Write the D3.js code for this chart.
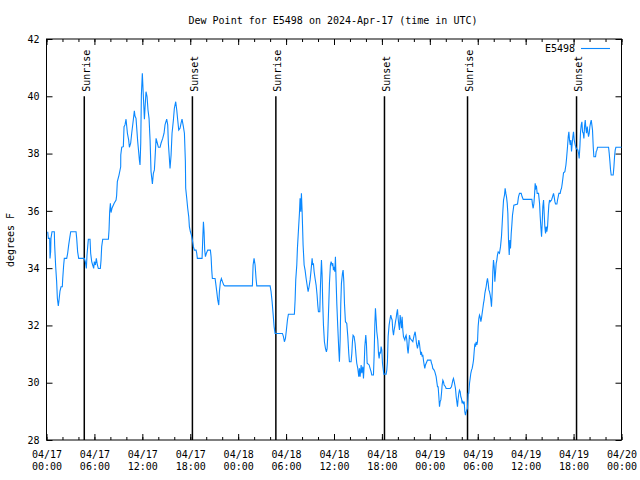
<!DOCTYPE html>
<html><head><meta charset="utf-8">
<script src="https://cdn.jsdelivr.net/npm/d3@7"></script>
<style>
body{margin:0;background:#fff}
text{font-family:"DejaVu Sans Mono","Liberation Mono",monospace;font-size:10px;fill:#000}
</style>
</head><body>
<svg id="chart" width="640" height="480"></svg>
<script>
const chartTitle = "Dew Point for E5498 on 2024-Apr-17 (time in UTC)";
const seriesName = "E5498";
const yAxisLabel = "degrees F";
const startUTC = Date.UTC(2024, 3, 17, 0, 0);
const spanHours = 72;
const yTicks = [28, 30, 32, 34, 36, 38, 40, 42];

// hours after 2024-04-17 00:00 UTC
const hoursUTC = [
0.15,0.23,0.40,0.44,0.52,0.56,0.69,0.98,1.02,1.15,1.27,1.36,1.48,1.57,1.69,1.82,1.98,2.03,2.15,2.23,2.53,2.65,2.78,2.90,3.03,3.70,3.78,3.90,4.03,4.74,4.86,4.99,5.07,5.16,5.24,5.45,5.53,5.66,5.78,5.91,5.99,6.12,6.24,6.37,6.49,6.74,6.83,6.91,7.04,7.75,7.83,7.91,8.00,8.08,8.20,8.46,8.71,
8.78,8.87,9.08,9.29,9.30,9.42,9.62,9.71,9.83,9.96,10.13,10.29,10.38,10.54,10.67,10.88,11.00,11.08,11.21,11.30,11.42,11.55,11.63,11.71,11.80,11.88,12.00,12.13,12.26,12.34,12.46,12.59,12.71,12.84,12.97,13.09,13.26,13.38,13.51,13.59,13.72,13.88,14.01,14.22,14.34,14.55,14.72,14.84,15.05,15.18,15.26,15.47,15.60,15.72,15.89,16.01,16.18,16.31,16.43,16.56,16.72,16.85,16.97,17.14,17.27,17.39,
17.43,17.56,17.68,17.81,17.89,18.02,18.14,18.27,18.39,18.52,18.73,18.81,18.89,19.48,19.56,19.65,19.73,19.81,19.90,20.02,20.19,20.52,20.61,20.69,20.77,21.11,21.19,21.32,21.44,21.57,21.65,21.78,21.90,22.03,22.19,22.32,25.78,25.87,25.99,26.12,26.24,26.33,28.00,28.12,28.25,28.37,28.50,28.62,29.54,29.67,29.79,29.92,30.04,30.17,30.29,31.04,31.13,31.21,31.34,31.42,31.55,31.67,31.75,31.84,31.92,32.01,32.13,32.26,32.38,32.51,32.63,32.76,32.88,33.01,33.13,33.26,33.34,33.42,33.51,33.63,33.76,33.88,33.97,34.05,34.22,34.30,34.43,34.51,34.59,34.68,34.80,34.93,35.05,35.14,35.22,35.35,35.43,35.55,35.64,35.76,35.85,35.93,36.01,36.10,36.18,36.26,36.35,36.47,36.60,36.68,36.77,36.85,36.93,37.06,37.14,37.23,37.31,37.43,37.60,37.73,37.85,37.93,38.14,38.23,38.31,38.39,38.52,38.64,38.77,38.85,38.98,39.10,39.19,39.27,
39.40,39.48,39.61,39.69,39.77,39.86,39.98,40.06,40.15,40.40,40.52,40.65,40.73,40.94,41.02,41.11,41.19,41.28,41.36,41.48,41.57,41.65,41.74,41.82,41.90,41.99,42.07,42.15,42.24,42.53,42.61,42.69,42.78,42.90,43.03,43.11,43.20,43.28,43.36,43.45,43.53,43.61,43.70,43.78,43.86,43.95,44.03,44.12,44.20,44.28,44.37,44.45,44.53,44.62,44.70,44.87,44.95,45.03,45.12,45.20,45.28,45.37,45.45,45.53,45.87,45.95,46.04,46.16,46.24,46.33,46.45,46.54,46.62,46.70,46.79,46.87,46.95,47.04,47.12,47.20,47.29,47.37,47.45,47.62,47.71,48.12,48.21,48.29,48.37,48.54,48.63,48.79,48.87,48.96,49.04,49.13,49.21,49.29,49.38,49.46,49.54,49.63,49.71,49.79,49.96,50.04,50.55,50.71,50.80,50.88,50.96,51.05,51.13,51.21,51.30,51.38,51.46,51.55,51.63,51.71,51.80,51.88,51.96,52.05,52.13,52.21,52.30,52.38,52.46,52.55,52.63,52.71,52.80,52.88,52.97,53.05,53.13,53.22,53.30,53.38,53.47,53.55,53.64,53.72,53.80,53.89,53.97,54.05,54.14,54.22,54.30,54.39,54.47,54.55,54.64,54.72,54.80,54.89,54.97,55.05,55.14,55.22,55.31,55.39,55.47,55.56,55.64,55.72,55.81,55.89,55.97,56.06,56.14,56.22,56.31,56.39,56.47,56.56,
56.72,56.85,56.97,57.06,57.14,57.23,57.35,57.43,57.52,57.60,57.69,57.77,57.85,57.94,58.02,58.10,58.19,58.27,58.35,58.44,58.52,58.98,59.10,59.23,59.44,59.56,59.69,60.78,60.86,60.94,61.03,61.11,61.19,61.28,61.36,61.44,61.61,61.74,61.82,61.90,61.99,62.07,62.15,62.24,62.32,62.40,62.49,62.57,62.65,62.74,62.82,62.90,62.99,63.07,63.24,63.36,63.49,63.57,63.66,63.74,63.91,63.99,64.07,64.16,64.32,64.41,64.49,64.58,64.66,64.74,64.91,65.04,65.12,65.24,65.33,65.41,65.49,65.58,65.66,65.74,65.83,65.91,65.99,66.08,66.20,66.33,66.54,66.62,66.70,66.79,66.87,66.96,67.04,67.12,67.21,67.29,67.37,67.46,67.54,67.62,67.71,67.79,67.87,67.96,68.04,68.12,68.21,68.29,68.37,68.46,68.54,68.75,68.83,68.92,69.00,70.38,70.46,70.55,70.63,70.71,70.96,71.05,71.13,71.21,71.30,72.00
];
const dewPointF = [
35.27,35.04,35.04,34.34,34.57,35.04,35.27,35.27,34.81,34.05,33.53,32.95,32.68,32.89,33.20,33.35,33.35,33.62,34.11,34.34,34.34,34.52,34.81,35.04,35.27,35.27,35.04,34.57,34.34,34.34,34.23,33.99,34.46,34.75,35.01,35.01,34.52,34.23,34.11,33.99,34.23,34.11,34.34,34.11,33.99,33.99,34.28,34.75,35.01,35.01,35.33,35.97,36.26,35.94,36.09,36.26,36.38,
36.53,37.02,37.25,37.54,37.95,38.22,38.24,38.94,39.00,39.20,38.71,38.47,38.22,38.36,38.71,39.20,39.49,39.31,39.23,38.88,38.42,38.03,37.78,37.60,38.36,40.04,40.80,39.99,39.20,39.60,40.16,39.99,39.52,39.23,38.47,37.37,36.94,37.31,37.43,37.83,38.53,38.36,38.22,38.22,38.36,38.53,38.71,39.00,39.20,39.00,38.36,37.48,37.95,38.71,39.17,39.58,39.81,39.52,39.17,38.82,38.88,39.06,39.20,38.94,38.71,37.72,
36.79,36.44,36.09,35.80,35.45,35.27,35.16,34.98,34.75,34.63,34.63,34.52,34.34,34.34,34.98,35.62,35.27,34.63,34.40,34.52,34.63,34.63,34.40,33.93,33.64,33.64,33.47,33.18,32.89,32.71,33.18,33.53,33.64,33.53,33.41,33.38,33.38,34.11,34.34,34.11,33.64,33.38,33.38,33.18,32.83,32.42,31.96,31.72,31.72,31.61,31.43,31.55,31.84,32.19,32.39,32.39,32.89,33.59,34.11,34.69,35.33,35.91,36.44,35.97,36.61,35.97,34.81,34.11,33.93,33.64,33.41,33.18,33.35,33.59,33.93,34.34,34.11,34.17,33.88,33.64,33.41,33.06,32.71,32.48,32.48,33.35,34.28,33.76,32.77,32.01,31.43,31.20,31.08,31.20,31.66,32.77,33.47,34.11,34.23,34.11,34.17,33.93,34.05,33.88,34.40,33.59,32.77,31.96,31.14,30.73,31.49,32.77,33.47,33.82,33.93,33.53,32.77,32.13,32.07,31.61,31.02,30.73,30.73,31.02,31.43,31.66,31.61,31.37,30.91,30.68,30.50,30.21,30.50,30.21,
30.62,30.33,30.56,30.15,30.56,31.26,31.66,31.37,30.68,30.62,30.50,30.38,30.27,30.27,30.91,32.01,32.60,32.19,31.78,31.49,31.02,30.85,31.08,31.02,31.26,31.14,30.68,30.50,30.30,30.30,30.44,30.73,31.61,32.01,32.25,32.36,32.25,32.19,31.84,31.66,31.84,31.96,32.13,32.25,32.42,32.56,32.25,32.01,31.84,32.36,32.13,31.90,32.30,31.84,31.61,31.49,31.61,31.66,31.49,31.20,31.02,31.32,31.66,31.55,31.43,31.55,31.66,31.78,31.61,31.37,31.20,31.32,31.49,31.37,31.14,30.97,31.08,30.91,30.97,30.79,30.62,30.50,30.62,30.73,30.79,30.79,30.68,30.62,30.50,30.44,30.38,30.21,30.04,29.86,29.86,29.51,29.16,29.34,29.40,29.63,29.92,30.09,30.04,29.92,29.86,29.80,29.80,29.86,29.98,30.09,30.15,30.04,29.92,29.80,29.51,29.34,29.16,29.45,29.63,29.74,29.69,29.51,29.45,29.28,29.34,29.28,29.34,28.99,28.87,28.99,29.05,29.10,29.63,29.63,29.98,30.15,30.33,30.44,30.50,30.62,30.79,31.08,31.37,31.26,31.43,31.32,31.43,31.96,32.25,32.36,32.30,32.13,32.25,32.42,32.60,32.77,32.89,33.12,33.24,33.35,33.53,33.64,33.47,33.24,33.18,33.06,32.89,32.65,33.18,33.88,34.28,34.05,33.53,33.82,34.17,34.28,34.46,34.57,
34.52,34.75,35.10,35.56,35.97,36.38,36.55,36.79,36.61,36.49,36.26,35.91,34.98,34.46,34.98,34.69,35.21,35.51,35.85,36.03,36.20,36.24,36.49,36.61,36.61,36.49,36.40,36.40,36.20,36.09,36.26,36.55,36.96,36.79,36.84,36.61,36.61,36.26,35.80,35.45,35.10,35.56,36.15,36.38,35.91,35.45,35.21,35.45,35.27,35.45,35.85,36.20,36.38,36.32,36.38,36.49,36.61,36.49,36.32,36.24,36.24,36.38,36.49,36.61,36.61,36.73,36.79,36.96,37.14,37.33,37.37,37.60,37.83,38.24,38.59,38.76,38.47,38.30,38.47,38.07,38.36,38.59,38.76,38.47,38.30,38.18,38.12,38.01,37.83,38.24,38.76,39.00,39.11,38.76,38.71,38.53,38.94,39.17,38.88,38.71,38.94,38.76,38.59,38.71,38.94,39.06,39.17,39.00,38.82,38.24,37.89,37.89,38.07,38.12,38.22,38.22,38.01,37.72,37.43,37.25,37.25,37.54,37.89,38.12,38.22,38.22
];

const sunLabels = ["Sunrise", "Sunset", "Sunrise", "Sunset", "Sunrise", "Sunset"];
const sunHours = [4.73, 18.27, 28.72, 42.32, 52.72, 66.37];

const svg = d3.select("#chart");
const L = 46.5, R = 621.5, T = 39, B = 440;
const hourMs = 3600 * 1000;
const x = d3.scaleUtc()
  .domain([new Date(startUTC), new Date(startUTC + spanHours * hourMs)])
  .range([L, R]);
const y = d3.scaleLinear().domain([28, 42]).range([B, T]);

const data = hoursUTC.map((h, i) => ({ t: new Date(startUTC + h * hourMs), v: dewPointF[i] }));

svg.append("rect").attr("width", 640).attr("height", 480).attr("fill", "#fff");

// Title
svg.append("text").attr("x", 333).attr("y", 24).attr("text-anchor", "middle").text(chartTitle);

// Y label
svg.append("text").attr("transform", "translate(13.5,240) rotate(-90)")
  .attr("text-anchor", "middle").text(yAxisLabel);

const major = d3.utcHour.every(6), minor = d3.utcHour.every(2);
function clean(g) { g.select(".domain").remove(); g.selectAll("line").attr("stroke", "#000"); }

// bottom minor + major
svg.append("g").attr("transform", `translate(0,${B})`)
  .call(d3.axisBottom(x).ticks(minor).tickSize(-3).tickFormat(""))
  .call(clean);
const fmtD = d3.utcFormat("%m/%d"), fmtT = d3.utcFormat("%H:%M");
const bx = svg.append("g").attr("transform", `translate(0,${B})`)
  .call(d3.axisBottom(x).ticks(major).tickSize(-6).tickFormat(fmtD))
  .call(clean);
bx.selectAll("text").each(function (d) {
  const t = d3.select(this);
  t.text(null).attr("y", 17.5).attr("dy", null)
    .style("font-family", null).style("font-size", null)
    .attr("font-family", null).attr("font-size", null);
  t.append("tspan").attr("x", 0).text(fmtD(d));
  t.append("tspan").attr("x", 0).attr("dy", 12).text(fmtT(d));
});
bx.attr("font-family", null).attr("font-size", null);

// top
svg.append("g").attr("transform", `translate(0,${T})`)
  .call(d3.axisTop(x).ticks(minor).tickSize(-3).tickFormat("")).call(clean);
svg.append("g").attr("transform", `translate(0,${T})`)
  .call(d3.axisTop(x).ticks(major).tickSize(-6).tickFormat("")).call(clean);

// left
const ly = svg.append("g").attr("transform", `translate(${L},0)`)
  .call(d3.axisLeft(y).tickValues(yTicks).tickSize(-6).tickPadding(7).tickFormat(d3.format("d")))
  .call(clean);
ly.attr("font-family", null).attr("font-size", null);
// right
svg.append("g").attr("transform", `translate(${R},0)`)
  .call(d3.axisRight(y).tickValues(yTicks).tickSize(-6).tickFormat("")).call(clean);

// frame
svg.append("rect").attr("x", L).attr("y", T).attr("width", R - L).attr("height", B - T)
  .attr("fill", "none").attr("stroke", "#000").attr("stroke-width", 1);

// sunrise / sunset
const sunG = svg.append("g");
sunHours.forEach((h, i) => {
  const t = new Date(startUTC + h * hourMs);
  const xx = x(t);
  sunG.append("line").attr("x1", xx).attr("x2", xx).attr("y1", y(40)).attr("y2", y(28))
    .attr("stroke", "#000").attr("stroke-width", 1.5);
  sunG.append("text").attr("transform", `translate(${xx + 5.5},${y(40) - 4.5}) rotate(-90)`)
    .attr("text-anchor", "start").text(sunLabels[i]);
});

// data line
const lineGen = d3.line().x(d => x(d.t)).y(d => y(d.v));
svg.append("path").datum(data).attr("d", lineGen)
  .attr("fill", "none").attr("stroke", "#0a88ff").attr("stroke-width", 1.1)
  .attr("stroke-linejoin", "miter");

// legend
svg.append("text").attr("x", 575).attr("y", 52).attr("text-anchor", "end").text(seriesName);
svg.append("line").attr("x1", 581).attr("x2", 610).attr("y1", 48.5).attr("y2", 48.5)
  .attr("stroke", "#0a88ff").attr("stroke-width", 1.1);
</script>
</body></html>
